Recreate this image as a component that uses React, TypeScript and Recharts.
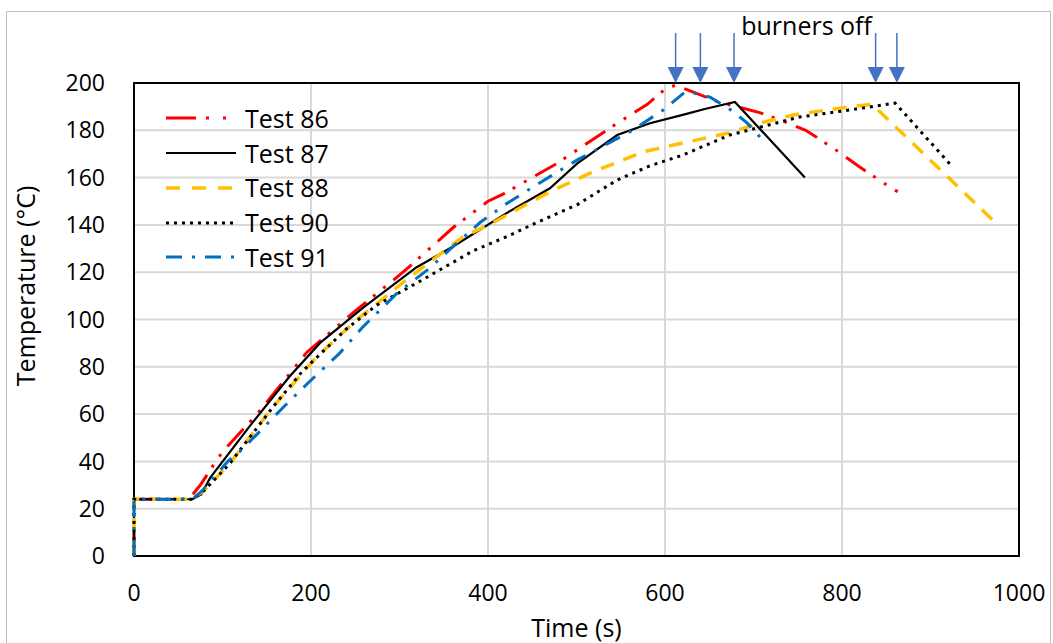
import React from 'react';
import {
  LineChart,
  Line,
  XAxis,
  YAxis,
  CartesianGrid,
  ReferenceArea,
  ReferenceDot,
  Legend,
  Label,
} from 'recharts';

type Pt = [number, number];

// time (s), temperature (°C)
const test86: Pt[] = [
  [0, 0], [0, 24], [62, 24], [75, 30], [89, 38], [100, 44], [139, 60], [165, 72],
  [195, 86], [248, 103], [304, 120], [361, 139], [400, 150], [417, 153], [478, 166],
  [546, 183], [580, 191], [602, 198], [612, 199], [640, 195], [660, 192], [707, 187.5],
  [733, 184], [759, 180], [792, 172], [818, 165], [852, 156.5], [863, 154],
];

const test87: Pt[] = [
  [0, 0], [0, 24], [66, 24], [76, 26], [86, 33], [131, 55], [176, 76], [210, 90],
  [259, 105], [319, 122], [361, 131], [421, 145], [470, 155.5], [501, 166], [546, 178],
  [583, 183], [620, 186.5], [645, 189], [679, 192], [758, 160],
];

const test88: Pt[] = [
  [0, 0], [0, 24], [66, 24], [80, 28], [108, 39], [157, 63], [206, 84], [252, 100],
  [312, 118], [372, 135], [406, 141], [440, 148], [470, 154], [516, 162], [576, 171],
  [620, 174.6], [673, 179], [707, 183], [745, 186.5], [809, 190], [834, 191], [976, 140],
];

const test90: Pt[] = [
  [0, 0], [0, 24], [66, 24], [80, 28], [108, 39], [157, 63], [190, 78], [240, 96],
  [274, 106], [327, 117], [383, 129], [421, 135], [455, 141], [501, 148.6], [546, 159],
  [583, 165], [620, 169.5], [673, 178], [752, 185.6], [809, 188.6], [860, 191.5], [925, 164.5],
];

const test91: Pt[] = [
  [0, 0], [0, 24], [66, 24], [78, 28], [106, 40], [122, 45], [169, 63], [199, 74],
  [233, 86], [259, 97], [297, 111], [335, 122], [361, 131], [391, 141], [421, 149],
  [455, 157], [501, 167.5], [561, 179.5], [598, 188.6], [622, 196], [632, 195.8],
  [651, 194], [677, 188], [693, 183], [709, 176.5],
];

const xTicks = [0, 200, 400, 600, 800, 1000];
const yTicks = [0, 20, 40, 60, 80, 100, 120, 140, 160, 180, 200];
const burnerOffTimes = [612, 640, 678, 838, 862];
const burnerOffLabel = 'burners off';

const FONT = '"Open Sans", Arial, sans-serif';
const ARROW = '#4472C4';

const series = [
  { name: 'Test 86', points: test86, color: '#FF0000', width: 3, dash: '24 9 3 10 3 10', legendDash: '30 10 3 14 3 10' },
  { name: 'Test 87', points: test87, color: '#000000', width: 2.2, dash: undefined, legendDash: undefined },
  { name: 'Test 88', points: test88, color: '#FFC000', width: 3.5, dash: '14 10', legendDash: '14 12' },
  { name: 'Test 90', points: test90, color: '#000000', width: 3, dash: '3 5', legendDash: '3 5' },
  { name: 'Test 91', points: test91, color: '#0070C0', width: 3, dash: '16 10 3 10', legendDash: '16 10 3 10' },
];

const toRows = (pts: Pt[]) => pts.map(([t, T]) => ({ t, T }));

const renderLegend = () => (
  <div style={{ fontFamily: FONT, fontSize: 25, color: '#000' }}>
    {series.map((s) => (
      <div key={s.name} style={{ display: 'flex', alignItems: 'center', height: 34.75 }}>
        <svg width={70} height={10} style={{ marginRight: 9 }}>
          <line x1={0} y1={5} x2={70} y2={5} stroke={s.color} strokeWidth={s.width} strokeDasharray={s.legendDash} />
        </svg>
        <span style={{ lineHeight: 1 }}>{s.name}</span>
      </div>
    ))}
  </div>
);

const Arrow = (props: any) => {
  const { cx, cy } = props;
  return (
    <g>
      <line x1={cx} y1={cy - 50} x2={cx} y2={cy - 14} stroke={ARROW} strokeWidth={1.5} />
      <polygon points={`${cx - 8},${cy - 16} ${cx + 8},${cy - 16} ${cx},${cy}`} fill={ARROW} />
    </g>
  );
};

const BurnersText = (props: any) => (
  <text x={props.cx} y={props.cy - 48} textAnchor="middle" fontFamily={FONT} fontSize={25} fill="#000">
    {burnerOffLabel}
  </text>
);

const tickStyle = { fontSize: 23, fill: '#000', fontFamily: FONT };

const App: React.FC = () => {
  return (
    <div style={{ position: 'absolute', left: 0, top: 0, width: 1053, height: 643, background: '#fff' }}>
      <div
        style={{
          position: 'absolute',
          left: 6,
          top: 11,
          width: 1043,
          height: 640,
          border: '1px solid #bfbfbf',
        }}
      />
      <LineChart width={1053} height={643} margin={{ top: 83, right: 34, bottom: 0, left: 0 }}>
        <CartesianGrid stroke="#d9d9d9" strokeWidth={2} />
        <XAxis
          type="number"
          dataKey="t"
          domain={[0, 1000]}
          ticks={xTicks}
          height={87}
          tickLine={false}
          axisLine={false}
          tickSize={0}
          tickMargin={29}
          tick={tickStyle}
          allowDuplicatedCategory={false}
        >
          <Label
            content={() => (
              <text x={576.5} y={637} textAnchor="middle" fontFamily={FONT} fontSize={25} fill="#000">
                Time (s)
              </text>
            )}
          />
        </XAxis>
        <YAxis
          type="number"
          domain={[0, 200]}
          ticks={yTicks}
          width={134}
          tickLine={false}
          axisLine={false}
          tickSize={0}
          tickMargin={29}
          tick={tickStyle}
        >
          <Label
            content={() => (
              <text
                x={35}
                y={286}
                transform="rotate(-90 35 286)"
                textAnchor="middle"
                fontFamily={FONT}
                fontSize={25}
                fill="#000"
              >
                Temperature (°C)
              </text>
            )}
          />
        </YAxis>
        <ReferenceArea x1={0} x2={1000} y1={0} y2={200} fill="none" stroke="#000" strokeWidth={2} />
        {series.map((s) => (
          <Line
            key={s.name}
            name={s.name}
            data={toRows(s.points)}
            dataKey="T"
            type="linear"
            stroke={s.color}
            strokeWidth={s.width}
            strokeDasharray={s.dash}
            dot={false}
            activeDot={false}
            isAnimationActive={false}
          />
        ))}
        {burnerOffTimes.map((t) => (
          <ReferenceDot key={t} x={t} y={200} r={0} ifOverflow="visible" shape={Arrow} />
        ))}
        <ReferenceDot x={760} y={200} r={0} ifOverflow="visible" shape={BurnersText} />
        <Legend
          layout="vertical"
          align="center"
          verticalAlign="middle"
          content={renderLegend}
          wrapperStyle={{ left: 166, top: 101, width: 'auto' }}
        />
      </LineChart>
    </div>
  );
};

export default App;
